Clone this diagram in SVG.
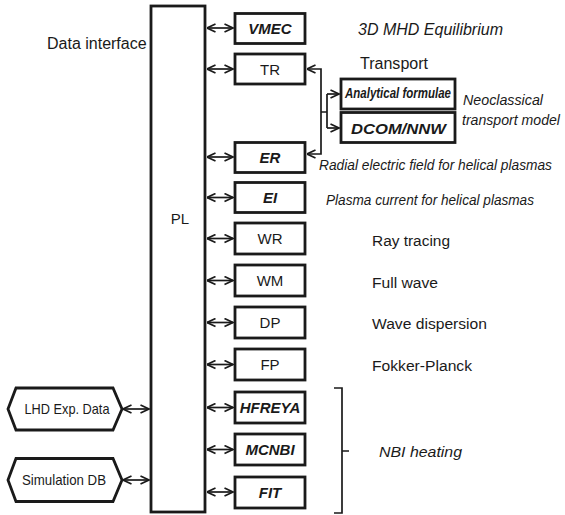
<svg xmlns="http://www.w3.org/2000/svg" width="565" height="515" viewBox="0 0 565 515">
<style>
.box{fill:#fff;stroke:#1a1a1a;stroke-width:2.8}
.ln{fill:none;stroke:#1a1a1a;stroke-width:1.7}
text{font-family:"Liberation Sans",Arial,sans-serif;fill:#1a1a1a}
.lbl{font-size:15px;text-anchor:middle}
.bi{font-weight:bold;font-style:italic}
.it{font-style:italic}
.desc{font-size:15.5px}
</style>
<defs>
<marker id="ah" viewBox="0 0 10 10" refX="9.5" refY="5" markerWidth="10" markerHeight="10" markerUnits="userSpaceOnUse" orient="auto-start-reverse">
<path d="M1,1 L9.5,5 L1,9" fill="none" stroke="#1a1a1a" stroke-width="1.7"/>
</marker>
</defs>
<rect width="565" height="515" fill="#fff"/>

<g id="connectors">
<path class="ln" d="M207,28 H233" marker-start="url(#ah)" marker-end="url(#ah)"/>
<path class="ln" d="M207,69 H233" marker-start="url(#ah)" marker-end="url(#ah)"/>
<path class="ln" d="M207,157 H233" marker-start="url(#ah)" marker-end="url(#ah)"/>
<path class="ln" d="M207,197.5 H233" marker-start="url(#ah)" marker-end="url(#ah)"/>
<path class="ln" d="M207,238.5 H233" marker-start="url(#ah)" marker-end="url(#ah)"/>
<path class="ln" d="M207,280.5 H233" marker-start="url(#ah)" marker-end="url(#ah)"/>
<path class="ln" d="M207,322.5 H233" marker-start="url(#ah)" marker-end="url(#ah)"/>
<path class="ln" d="M207,364.5 H233" marker-start="url(#ah)" marker-end="url(#ah)"/>
<path class="ln" d="M207,407.5 H233" marker-start="url(#ah)" marker-end="url(#ah)"/>
<path class="ln" d="M207,449.5 H233" marker-start="url(#ah)" marker-end="url(#ah)"/>
<path class="ln" d="M207,492 H233" marker-start="url(#ah)" marker-end="url(#ah)"/>
<path class="ln" d="M123,409 H149" marker-start="url(#ah)" marker-end="url(#ah)"/>
<path class="ln" d="M123,480 H149" marker-start="url(#ah)" marker-end="url(#ah)"/>
<path class="ln" d="M307,69 H321 V154 H307" marker-start="url(#ah)" marker-end="url(#ah)"/>
<path class="ln" d="M321,112 H327 M327,94 V128"/>
<path class="ln" d="M327,94 H339" marker-end="url(#ah)"/>
<path class="ln" d="M327,128 H339" marker-end="url(#ah)"/>
<path class="ln" d="M334,388 H342 V513 H334 M342,451 H349" stroke-width="2"/>
</g>

<g id="PL">
<rect class="box" x="151" y="6" width="54" height="506"/>
<text x="180" y="224" class="lbl" font-size="16">PL</text>
</g>
<text x="47" y="49" font-size="16">Data interface</text>

<g id="VMEC"><rect class="box" x="235" y="13.5" width="70" height="30"/><text x="270" y="34" class="lbl bi">VMEC</text></g>
<g id="TR"><rect class="box" x="235" y="54" width="70" height="30"/><text x="270" y="74.5" class="lbl">TR</text></g>
<g id="ER"><rect class="box" x="235" y="142.5" width="70" height="30"/><text x="270" y="163" class="lbl bi">ER</text></g>
<g id="EI"><rect class="box" x="235" y="182.5" width="70" height="30"/><text x="270" y="203" class="lbl bi">EI</text></g>
<g id="WR"><rect class="box" x="235" y="223" width="70" height="31"/><text x="270" y="244" class="lbl">WR</text></g>
<g id="WM"><rect class="box" x="235" y="265" width="70" height="31"/><text x="270" y="286" class="lbl">WM</text></g>
<g id="DP"><rect class="box" x="235" y="307" width="70" height="31"/><text x="270" y="328" class="lbl">DP</text></g>
<g id="FP"><rect class="box" x="235" y="349" width="70" height="31"/><text x="270" y="370" class="lbl">FP</text></g>
<g id="HFREYA"><rect class="box" x="235" y="392" width="70" height="31"/><text x="270" y="413" class="lbl bi">HFREYA</text></g>
<g id="MCNBI"><rect class="box" x="235" y="434" width="70" height="31"/><text x="270" y="455" class="lbl bi">MCNBI</text></g>
<g id="FIT"><rect class="box" x="235" y="477" width="70" height="31"/><text x="270" y="498" class="lbl bi">FIT</text></g>

<g id="Analytical"><rect class="box" x="341" y="79" width="114" height="30"/><text x="398" y="98" class="lbl bi" font-size="11.5" textLength="106" lengthAdjust="spacingAndGlyphs">Analytical formulae</text></g>
<g id="DCOM"><rect class="box" x="341" y="112.5" width="114" height="30"/><text x="398.5" y="134" class="lbl bi" font-size="17" textLength="95" lengthAdjust="spacingAndGlyphs">DCOM/NNW</text></g>

<g id="LHD"><polygon class="box" points="8,409 16,388 113,388 122,409 113,430 16,430"/><text x="67" y="414" class="lbl" font-size="14" textLength="85" lengthAdjust="spacingAndGlyphs">LHD Exp. Data</text></g>
<g id="SimDB"><polygon class="box" points="8,480 16,458.5 113,458.5 122,480 113,501.5 16,501.5"/><text x="64" y="485" class="lbl" font-size="14" textLength="84" lengthAdjust="spacingAndGlyphs">Simulation DB</text></g>

<g id="descriptions">
<text x="358" y="35" class="it" font-size="16" textLength="145" lengthAdjust="spacingAndGlyphs">3D MHD Equilibrium</text>
<text x="360" y="69" font-size="16" textLength="68" lengthAdjust="spacingAndGlyphs">Transport</text>
<text x="463" y="105" class="it" font-size="14.2" textLength="80" lengthAdjust="spacingAndGlyphs">Neoclassical</text>
<text x="462" y="125" class="it" font-size="14.2" textLength="98" lengthAdjust="spacingAndGlyphs">transport model</text>
<text x="319" y="170" class="it" font-size="14" textLength="233" lengthAdjust="spacingAndGlyphs">Radial electric field for helical plasmas</text>
<text x="326" y="205" class="it" font-size="14" textLength="208" lengthAdjust="spacingAndGlyphs">Plasma current for helical plasmas</text>
<text x="372" y="246" class="desc" textLength="78" lengthAdjust="spacingAndGlyphs">Ray tracing</text>
<text x="372" y="288" class="desc" textLength="66" lengthAdjust="spacingAndGlyphs">Full wave</text>
<text x="372" y="329" class="desc" textLength="115" lengthAdjust="spacingAndGlyphs">Wave dispersion</text>
<text x="372" y="371" class="desc" textLength="100" lengthAdjust="spacingAndGlyphs">Fokker-Planck</text>
<text x="379" y="457" class="it" font-size="15" textLength="83" lengthAdjust="spacingAndGlyphs">NBI heating</text>
</g>
</svg>
